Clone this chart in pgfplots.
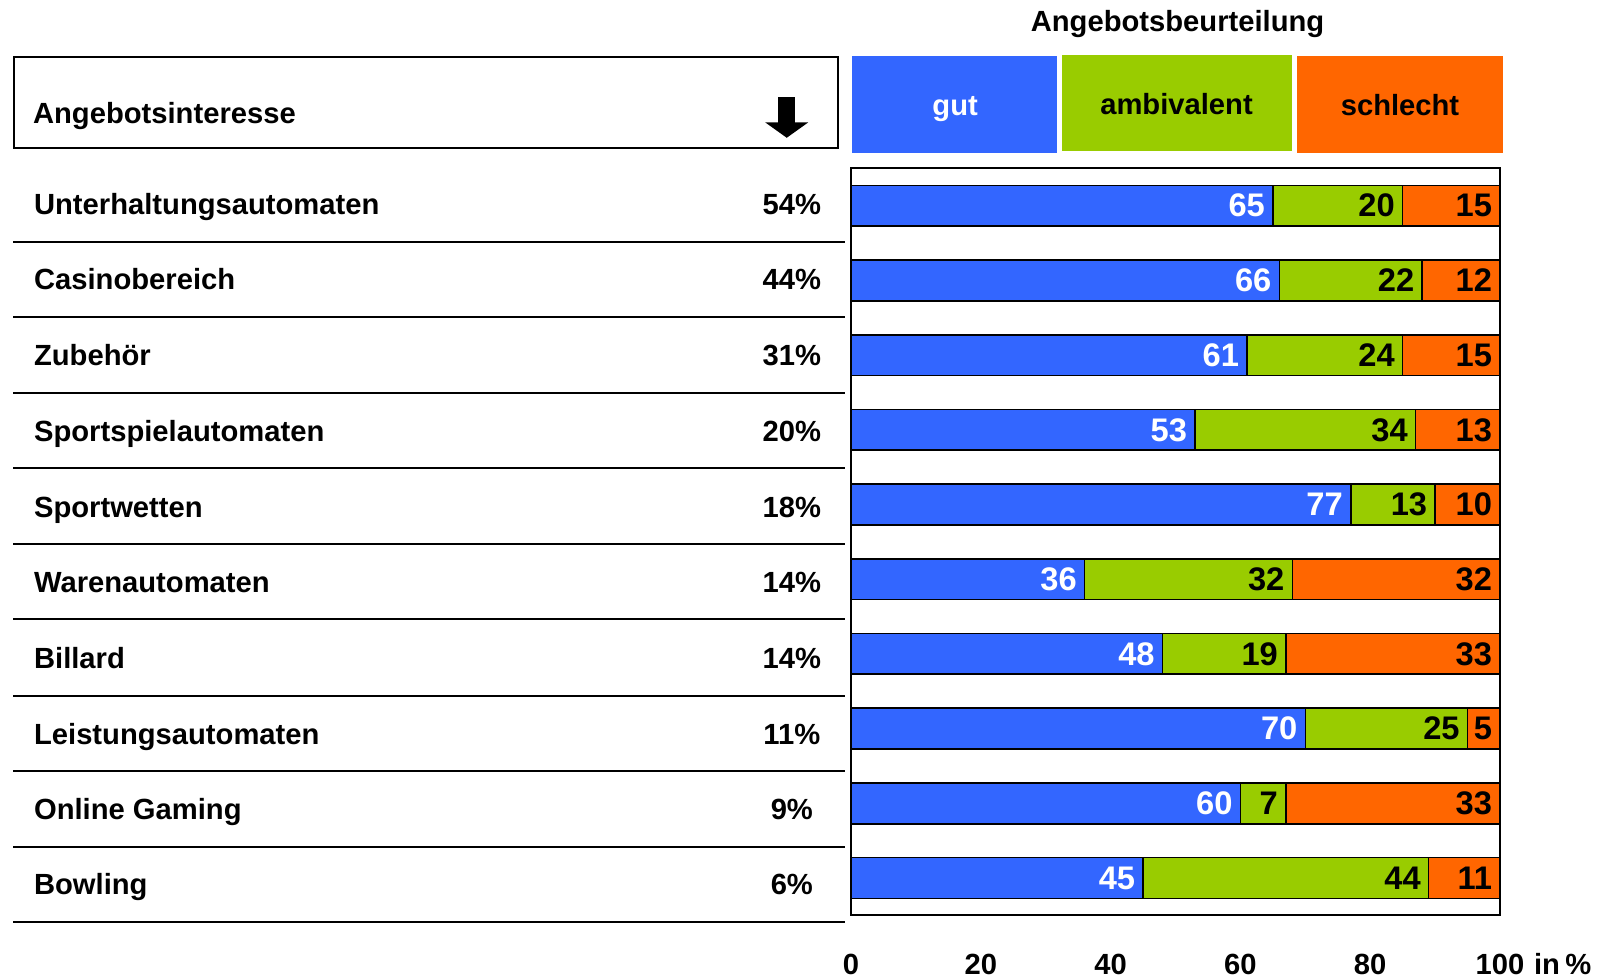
\documentclass[border=0pt]{standalone}
\usepackage{fontspec}
\setmainfont{Liberation Sans}
\usepackage{pgfplots}
\pgfplotsset{compat=1.18}
\definecolor{cgut}{HTML}{3366FF}
\definecolor{camb}{HTML}{99CC00}
\definecolor{cbad}{HTML}{FF6600}
\newcommand{\lbl}{\fontsize{14.3}{16}\selectfont\bfseries}
\newcommand{\blbl}{\fontsize{16}{18}\selectfont\bfseries}
\begin{document}
\begin{tikzpicture}[x=0.5pt,y=-0.5pt]
\useasboundingbox (0,0) rectangle (1568,958);
% left header box
\draw[line width=1pt] (14,56) rectangle (821,145);
\node[font=\lbl, anchor=base west, inner sep=0] at (32,121) {Angebotsinteresse};
\fill (762,95) rectangle (779,121);
\fill (750,120) -- (792,120) -- (771,135) -- cycle;
% category rows
\foreach \n/\p/\yy in {Unterhaltungsautomaten/54/200, Casinobereich/44/274, Zubehör/31/348, Sportspielautomaten/20/423, Sportwetten/18/497, Warenautomaten/14/571, Billard/14/645, Leistungsautomaten/11/720, Online Gaming/9/793, Bowling/6/867}{
  \node[font=\lbl, anchor=base west, inner sep=0] at (33,{\yy+10}) {\n};
  \node[font=\lbl, anchor=base, inner sep=0] at (776,{\yy+10}) {\p\%};
}
\foreach \yy in {237,311,385,459,533,607,682,756,830,904}{
  \draw[line width=1pt] (13,\yy) -- (828,\yy);
}
% right header
\node[font=\lbl, anchor=base, inner sep=0] at (1154,31) {Angebotsbeurteilung};
\fill[cgut] (835,55) rectangle (1036,150);
\fill[camb] (1041,54) rectangle (1266,148);
\fill[cbad] (1271,55) rectangle (1473,150);
\node[font=\lbl, text=white, anchor=base, inner sep=0] at (936,113) {gut};
\node[font=\lbl, anchor=base, inner sep=0] at (1153,112) {ambivalent};
\node[font=\lbl, anchor=base, inner sep=0] at (1372,113) {schlecht};
\node[font=\lbl, anchor=base west, inner sep=0] at (1503,955) {in\kern0.18em\%};
\begin{axis}[
  at={(417pt,-448.5pt)}, anchor=south west,
  scale only axis, width=318pt, height=366pt,
  xbar stacked, bar width=20pt,
  xmin=0, xmax=100, ymin=0.5, ymax=10.5, y dir=reverse,
  ytick=\empty, xtick={0,20,40,60,80,100},
  major tick length=0pt,
  xticklabel style={font=\lbl, yshift=-15.5pt},
  xticklabels={0,20,40,60,80,100},
  axis line style={line width=1pt},
  point meta=explicit symbolic,
  nodes near coords,
  every node near coord/.append style={font=\blbl, anchor=east, inner sep=3.5pt, xshift={\pgfplotspointmeta*1.59pt}},
  clip=false,
]
\addplot[fill=cgut, draw=black, line width=0.8pt, every node near coord/.append style={text=white}] coordinates {
 (65,1)[65] (66,2)[66] (61,3)[61] (53,4)[53] (77,5)[77] (36,6)[36] (48,7)[48] (70,8)[70] (60,9)[60] (45,10)[45]};
\addplot[fill=camb, draw=black, line width=0.8pt, every node near coord/.append style={text=black}] coordinates {
 (20,1)[20] (22,2)[22] (24,3)[24] (34,4)[34] (13,5)[13] (32,6)[32] (19,7)[19] (25,8)[25] (7,9)[7] (44,10)[44]};
\addplot[fill=cbad, draw=black, line width=0.8pt, every node near coord/.append style={text=black}] coordinates {
 (15,1)[15] (12,2)[12] (15,3)[15] (13,4)[13] (10,5)[10] (32,6)[32] (33,7)[33] (5,8)[5] (33,9)[33] (11,10)[11]};
\end{axis}
\end{tikzpicture}
\end{document}
